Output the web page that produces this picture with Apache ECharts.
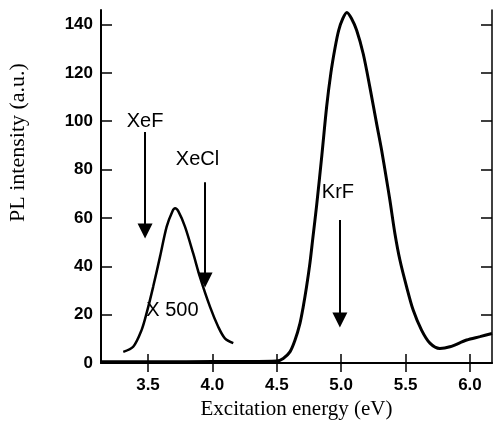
<!DOCTYPE html>
<html>
<head>
<meta charset="utf-8">
<script src="https://cdn.jsdelivr.net/npm/echarts@6/dist/echarts.min.js"></script>
<style>
  html, body { margin: 0; padding: 0; background: #fff; }
  #chart { width: 493px; height: 430px; }
</style>
</head>
<body>
<div id="chart"></div>
<script>
// tick values
var xTicks = [3.5, 4.0, 4.5, 5.0, 5.5, 6.0];
var yTicks = [0, 20, 40, 60, 80, 100, 120, 140];

// main excitation band (KrF side)
var bandEnergy = [3.135, 3.6, 4.0, 4.29, 4.499, 4.55, 4.602, 4.641, 4.68, 4.705, 4.731, 4.757, 4.778,
  4.81, 4.85, 4.887, 4.92, 4.951, 4.98, 5.013, 5.044, 5.081, 5.12, 5.171, 5.223, 5.275, 5.314,
  5.353, 5.378, 5.417, 5.456, 5.508, 5.559, 5.624, 5.689, 5.766, 5.844, 5.974, 6.077, 6.171];
var bandIntensity = [0.5, 0.5, 0.6, 0.6, 0.8, 1.9, 4.6, 9.4, 16.4, 23.2, 31.5, 41.2, 50.8,
  65.5, 86, 106, 120, 130, 137.5, 142.5, 145, 142.4, 137.6, 127.9, 114, 99, 88,
  75.6, 67.4, 53.6, 42.6, 31.5, 21.9, 13.6, 8.2, 6, 6.7, 9.5, 10.9, 12.2];

// weak band, shown x 500
var weakEnergy = [3.308, 3.385, 3.45, 3.489, 3.54, 3.593, 3.645, 3.69, 3.71, 3.735, 3.787,
  3.851, 3.903, 3.981, 4.045, 4.097, 4.162];
var weakIntensity = [4.6, 6.7, 13.6, 20.6, 31.5, 43.9, 56.4, 62.8, 64, 62.8, 56.4,
  45.3, 35.6, 23.3, 15, 10.2, 8.2];

// laser arrows
var arrowEnergy = [3.477, 3.943, 4.99];
var arrowTop = [95.5, 74.8, 59.1];
var arrowEnd = [54.6, 34.3, 17.8];

// text notes
var noteText = ['XeF', 'XeCl', 'KrF', 'X 500'];
var noteEnergy = [3.477, 3.884, 4.975, 3.69];
var noteIntensity = [100, 84.3, 70.5, 21.9];

function pairs(xs, ys) {
  return xs.map(function(x, i) { return [x, ys[i]]; });
}

function xAxisOf(pos, showLabel) {
  return {
    type: 'value',
    position: pos,
    min: 3.135,
    max: 6.171,
    splitLine: { show: false },
    axisLine: { show: true, lineStyle: { color: '#000', width: pos == 'bottom' ? 2 : 1.5 } },
    axisTick: { show: true, inside: true, length: 9, customValues: xTicks, lineStyle: { color: '#000', width: 1.5 } },
    axisLabel: {
      show: showLabel, customValues: xTicks, margin: 14,
      color: '#000', fontSize: 17, fontWeight: 'bold', fontFamily: 'Liberation Sans',
      formatter: function(v) { return v.toFixed(1); }
    }
  };
}

function yAxisOf(pos, showLabel) {
  return {
    type: 'value',
    position: pos,
    min: 0,
    max: 146,
    splitLine: { show: false },
    axisLine: { show: true, lineStyle: { color: '#000', width: pos == 'left' ? 2 : 1.5 } },
    axisTick: { show: true, inside: true, length: 11, customValues: yTicks, lineStyle: { color: '#000', width: 1.5 } },
    axisLabel: {
      show: showLabel, customValues: yTicks, margin: 8,
      color: '#000', fontSize: 17, fontWeight: 'bold', fontFamily: 'Liberation Sans'
    }
  };
}

var xBottom = xAxisOf('bottom', true);
xBottom.name = 'Excitation energy (eV)';
xBottom.nameLocation = 'middle';
xBottom.nameGap = 22;
xBottom.nameTextStyle = { color: '#000', fontSize: 21, fontFamily: 'Liberation Serif' };

var yLeft = yAxisOf('left', true);
yLeft.name = 'PL intensity (a.u.)';
yLeft.nameLocation = 'middle';
yLeft.nameRotate = 90;
yLeft.nameGap = 72;
yLeft.nameTextStyle = { color: '#000', fontSize: 22, fontFamily: 'Liberation Serif', padding: [0, 0, 0, 88] };

var arrowLines = arrowEnergy.map(function(x, i) {
  return [{ coord: [x, arrowTop[i]] }, { coord: [x, arrowEnd[i]] }];
});

var chart = echarts.init(document.getElementById('chart'));
chart.setOption({
  animation: false,
  grid: { left: 101, right: 1, top: 10, bottom: 67, outerBoundsMode: 'none' },
  xAxis: [xBottom, xAxisOf('top', false)],
  yAxis: [yLeft, yAxisOf('right', false)],
  series: [{
    type: 'line',
    data: pairs(bandEnergy, bandIntensity),
    smooth: 0.3,
    showSymbol: false,
    lineStyle: { color: '#000', width: 3 }
  }, {
    type: 'line',
    data: pairs(weakEnergy, weakIntensity),
    smooth: 0.3,
    showSymbol: false,
    lineStyle: { color: '#000', width: 2.5 }
  }, {
    type: 'line',
    data: [],
    markLine: {
      silent: true,
      symbol: ['none', 'triangle'],
      symbolSize: 15,
      label: { show: false },
      lineStyle: { color: '#000', width: 2, type: 'solid' },
      data: arrowLines
    }
  }, {
    type: 'scatter',
    symbolSize: 0,
    silent: true,
    itemStyle: { opacity: 1 },
    data: pairs(noteEnergy, noteIntensity),
    label: {
      show: true,
      position: 'inside',
      color: '#000',
      fontSize: 20,
      fontFamily: 'Liberation Sans',
      formatter: function(p) { return noteText[p.dataIndex]; }
    }
  }]
});
</script>
</body>
</html>
